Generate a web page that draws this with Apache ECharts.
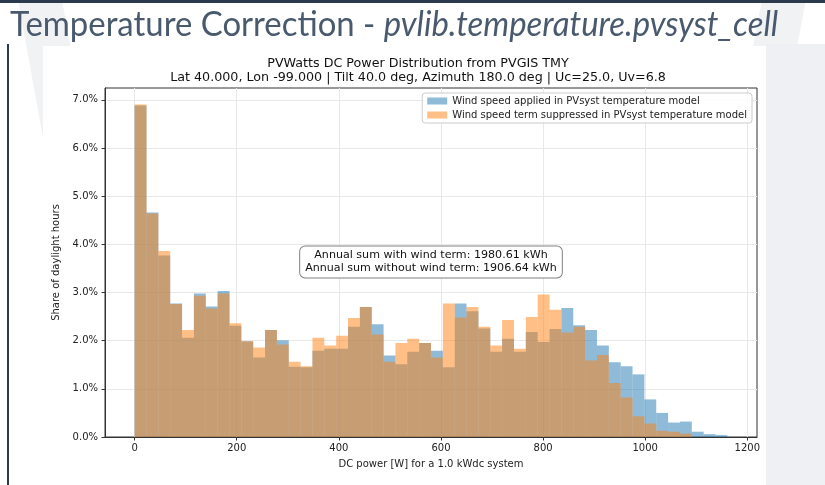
<!doctype html>
<html>
<head>
<meta charset="utf-8">
<title>PVWatts DC Power Distribution</title>
<style>
  html, body { margin: 0; padding: 0; background: #ffffff; }
  #main { width: 825px; height: 485px; }
</style>
</head>
<body>
<div id="main"></div>
<script src="https://cdn.jsdelivr.net/npm/echarts@6/dist/echarts.min.js"></script>
<script>
// histogram bins: 50 equal bins starting at 0 W
var binStart = 0;
var binWidth = 23.22;

// share of daylight hours per bin [%]
var shareWithWind = [
    6.88, 4.66, 3.77, 2.77, 2.06, 2.98, 2.71, 3.03, 2.31, 1.99,
    1.65, 2.22, 2.01, 1.46, 1.45, 1.79, 1.83, 1.83, 2.29, 2.70,
    2.34, 1.69, 1.51, 1.77, 1.95, 1.79, 1.45, 2.77, 2.61, 2.25,
    1.77, 2.04, 1.77, 2.18, 1.97, 2.24, 2.68, 2.32, 2.22, 1.90,
    1.55, 1.47, 1.30, 0.78, 0.50, 0.30, 0.32, 0.11, 0.06, 0.04
];
var shareWithoutWind = [
    6.90, 4.64, 3.86, 2.76, 2.22, 2.93, 2.67, 2.98, 2.36, 1.99,
    1.86, 2.22, 1.92, 1.56, 1.47, 2.06, 1.90, 2.10, 2.47, 2.70,
    2.13, 1.56, 1.95, 2.04, 1.95, 1.65, 2.77, 2.48, 2.70, 2.29,
    1.90, 2.43, 1.83, 2.49, 2.96, 2.64, 2.17, 2.29, 1.59, 1.70,
    1.12, 0.82, 0.43, 0.28, 0.13, 0.11, 0.07, 0, 0, 0
];

var xTicks = [0, 200, 400, 600, 800, 1000, 1200];
var yTicks = [0, 1, 2, 3, 4, 5, 6, 7];

var seriesNames = [
    'Wind speed applied in PVsyst temperature model',
    'Wind speed term suppressed in PVsyst temperature model'
];
var annualSums = ['1980.61', '1906.64'];

var FONT = 'DejaVu Sans';

function toBins(values) {
    return values.map(function (v, i) {
        return [binStart + i * binWidth, binStart + (i + 1) * binWidth, v];
    });
}

function renderBar(params, api) {
    var top = api.coord([api.value(0), api.value(2)]);
    var base = api.coord([api.value(1), 0]);
    return {
        type: 'rect',
        shape: { x: top[0], y: top[1], width: base[0] - top[0], height: base[1] - top[1] },
        style: api.style()
    };
}

var chart = echarts.init(document.getElementById('main'));

chart.setOption({
    backgroundColor: '#ffffff',
    animation: false,
    graphic: [
        // slide decoration
        { type: 'polygon', z: -20, shape: { points: [[18, 0], [62, 0], [150, 485], [106, 485]] }, style: { fill: '#f1f2f4' } },
        { type: 'polygon', z: -20, shape: { points: [[762, 0], [806, 0], [712, 485], [668, 485]] }, style: { fill: '#f1f2f4' } },
        { type: 'rect', z: -19, shape: { x: 766, y: 44, width: 59, height: 441 }, style: { fill: '#eef0f3' } },
        { type: 'rect', z: -18, shape: { x: 43, y: 46, width: 723, height: 439 }, style: { fill: '#ffffff' } },
        { type: 'rect', z: -17, shape: { x: 0, y: 0, width: 825, height: 3 }, style: { fill: '#2b3a4c' } },
        { type: 'rect', z: -17, shape: { x: 7, y: 44, width: 2, height: 441 }, style: { fill: '#2b3a4c' } },
        {
            type: 'text', z: 5, x: 10, y: 7, scaleX: 0.94,
            style: {
                text: '{a|Temperature Correction - }{b|pvlib.temperature.pvsyst_cell}',
                rich: {
                    a: { fontFamily: 'Lato', fontSize: 35, fill: '#4a5a6e' },
                    b: { fontFamily: 'Lato', fontSize: 35, fontStyle: 'italic', fill: '#4a5a6e' }
                }
            }
        },
        // chart titles
        {
            type: 'text', z: 5, x: 418, y: 57,
            style: { text: 'PVWatts DC Power Distribution from PVGIS TMY', font: '12.7px "DejaVu Sans"', fill: '#111', align: 'center' }
        },
        {
            type: 'text', z: 5, x: 418, y: 71,
            style: { text: 'Lat 40.000, Lon -99.000 | Tilt 40.0 deg, Azimuth 180.0 deg | Uc=25.0, Uv=6.8', font: '12.7px "DejaVu Sans"', fill: '#111', align: 'center' }
        },
        // annual sums box at axes centre
        {
            type: 'text', z: 10, x: 431, y: 262,
            style: {
                text: 'Annual sum with wind term: ' + annualSums[0] + ' kWh\nAnnual sum without wind term: ' + annualSums[1] + ' kWh',
                font: '11.1px "DejaVu Sans"', fill: '#111', align: 'center', verticalAlign: 'middle',
                lineHeight: 13,
                backgroundColor: '#ffffff', borderColor: '#808080', borderWidth: 1, borderRadius: 5,
                padding: [3, 5, 2, 5]
            }
        }
    ],
    grid: {
        left: 105, right: 68, top: 88, bottom: 48,
        show: true, borderColor: '#333333', borderWidth: 1, backgroundColor: 'transparent'
    },
    legend: {
        orient: 'vertical', right: 73, top: 93,
        itemWidth: 20, itemHeight: 7, itemGap: 4,
        icon: 'rect',
        backgroundColor: 'rgba(255,255,255,0.85)', borderColor: '#cccccc', borderWidth: 1, borderRadius: 3,
        padding: [3, 5, 3, 5],
        textStyle: { fontFamily: FONT, fontSize: 10, color: '#222222' },
        data: seriesNames
    },
    xAxis: {
        type: 'value', min: -58.05, max: 1219.05,
        name: 'DC power [W] for a 1.0 kWdc system', nameLocation: 'middle', nameGap: 22,
        nameTextStyle: { fontFamily: FONT, fontSize: 10, color: '#222222' },
        axisLine: { show: true, lineStyle: { color: '#333333' } },
        axisTick: { show: true, length: 3.5, customValues: xTicks, lineStyle: { color: '#333333' } },
        axisLabel: {
            customValues: xTicks, margin: 6, fontFamily: FONT, fontSize: 10, color: '#222222',
            formatter: function (v) { return String(v); }
        },
        splitLine: { show: true, lineStyle: { color: '#e8e8e8', width: 1 } }
    },
    yAxis: {
        type: 'value', min: 0, max: 7.245,
        name: 'Share of daylight hours', nameLocation: 'middle', nameGap: 37,
        nameTextStyle: { fontFamily: FONT, fontSize: 10, color: '#222222' },
        axisLine: { show: true, onZero: false, lineStyle: { color: '#333333' } },
        axisTick: { show: true, length: 3.5, customValues: yTicks, lineStyle: { color: '#333333' } },
        axisLabel: {
            customValues: yTicks, margin: 7, fontFamily: FONT, fontSize: 10, color: '#222222',
            formatter: function (v) { return v.toFixed(1) + '%'; }
        },
        splitLine: { show: true, lineStyle: { color: '#e8e8e8', width: 1 } }
    },
    series: [
        {
            name: seriesNames[0], type: 'custom', renderItem: renderBar,
            itemStyle: { color: 'rgba(31,119,180,0.5)' },
            encode: { x: [0, 1], y: 2 },
            data: toBins(shareWithWind)
        },
        {
            name: seriesNames[1], type: 'custom', renderItem: renderBar,
            itemStyle: { color: 'rgba(255,127,14,0.5)' },
            encode: { x: [0, 1], y: 2 },
            data: toBins(shareWithoutWind)
        }
    ]
});

window.addEventListener('resize', function () {
    chart.resize();
});
</script>
</body>
</html>
